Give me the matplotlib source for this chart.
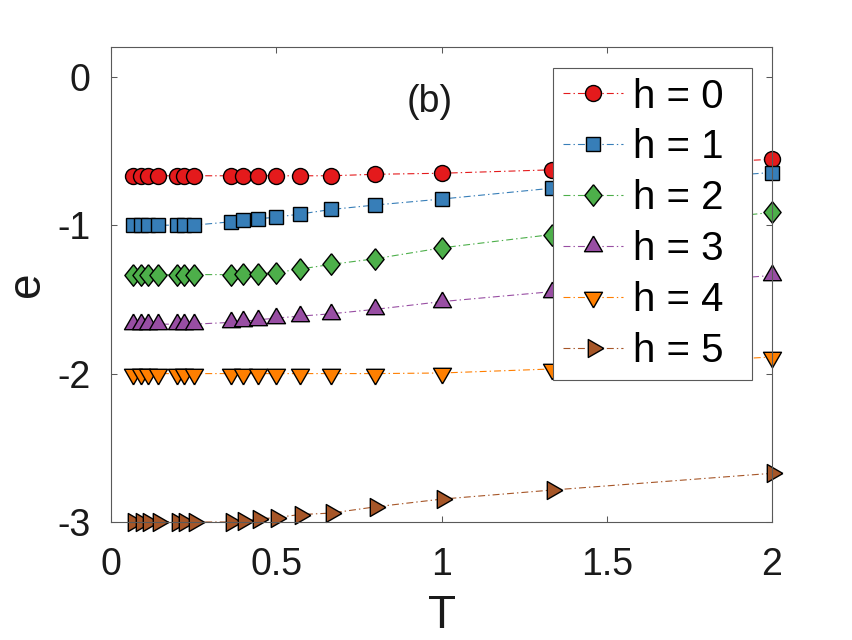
import numpy as np
import matplotlib
matplotlib.use('Agg')
from matplotlib import pyplot as plt
from matplotlib import rcParams

rcParams['font.family'] = ['Liberation Sans', 'DejaVu Sans']
rcParams['lines.scale_dashes'] = False

# temperature grid (shared by all curves)
T = [0.0667, 0.0909, 0.1111, 0.1429, 0.2, 0.2222, 0.25, 0.3636, 0.4, 0.4444,
     0.5, 0.5714, 0.6667, 0.8, 1.0, 1.3333, 2.0]

e_h0 = [-0.667, -0.667, -0.667, -0.667, -0.667, -0.667, -0.667, -0.667, -0.667,
        -0.667, -0.667, -0.667, -0.667, -0.657, -0.650, -0.627, -0.556]
e_h1 = [-1.0, -1.0, -1.0, -1.0, -1.0, -1.0, -1.0, -0.977, -0.966, -0.957,
        -0.946, -0.925, -0.894, -0.864, -0.824, -0.751, -0.645]
e_h2 = [-1.333, -1.333, -1.333, -1.333, -1.333, -1.333, -1.333, -1.333, -1.330,
        -1.328, -1.319, -1.296, -1.264, -1.226, -1.153, -1.063, -0.914]
e_h3 = [-1.667, -1.667, -1.667, -1.667, -1.667, -1.667, -1.667, -1.655, -1.647,
        -1.638, -1.626, -1.613, -1.597, -1.567, -1.515, -1.448, -1.339]
e_h4 = [-2.0, -2.0, -2.0, -2.0, -2.0, -2.0, -2.0, -2.0, -2.0, -2.0,
        -2.0, -2.0, -2.0, -2.0, -1.996, -1.969, -1.888]
e_h5 = [-3.0, -3.0, -3.0, -3.0, -3.0, -3.0, -3.0, -3.0, -2.995, -2.98,
        -2.97, -2.95, -2.94, -2.898, -2.846, -2.785, -2.672]

labels = ['h = 0', 'h = 1', 'h = 2', 'h = 3', 'h = 4', 'h = 5']
colors = ['#e41a1c', '#377eb8', '#4daf4a', '#984ea3', '#ff7f00', '#a65628']

# matlab-like markers (triangles centred on their centroid)
tri_up = [(0, 0.667), (-0.575, -0.333), (0.575, -0.333), (0, 0.667)]
tri_dn = [(0, -0.667), (-0.575, 0.333), (0.575, 0.333), (0, -0.667)]
tri_rt = [(0.667, 0), (-0.333, -0.575), (-0.333, 0.575), (0.667, 0)]
diamond = [(0, 1), (0.8, 0), (0, -1), (-0.8, 0), (0, 1)]
markers = ['o', 's', diamond, tri_up, tri_dn, tri_rt]
msizes = [11.5, 9.8, 15.5, 15.0, 15.0, 15.0]

fig = plt.figure(figsize=(8.53, 6.4), dpi=100)
ax = fig.add_axes([0.1301, 0.1844, 0.775, 0.742])

series = [e_h0, e_h1, e_h2, e_h3, e_h4, e_h5]
for y, lab, c, m, ms in zip(series, labels, colors, markers, msizes):
    ax.plot(T, y, linestyle='-.', dashes=(5, 2.2, 1, 2.2), lw=0.8, color=c,
            marker=m, markersize=ms, markerfacecolor=c, markeredgecolor='k',
            markeredgewidth=1.0, label=lab, clip_on=False)

ax.set_xlim(0, 2)
ax.set_ylim(-3, 0.2)
ax.set_xticks([0, 0.5, 1, 1.5, 2])
ax.set_xticklabels(['0', '0.5', '1', '1.5', '2'])
ax.set_yticks([-3, -2, -1, 0])
ax.set_yticklabels(['-3', '-2', '-1', '0'])
ax.tick_params(direction='in', top=True, right=True, length=4, width=0.75,
               color='0.35', labelsize=27, labelcolor='0.1')
ax.tick_params(axis='x', pad=18)
ax.tick_params(axis='y', pad=15)
for sp in ax.spines.values():
    sp.set_color('0.35')
    sp.set_linewidth(0.8)

ax.set_xlabel('T', fontsize=33, labelpad=8, color='0.1')
ax.set_ylabel('e', fontsize=33, labelpad=6, color='0.1')

ax.text(0.965, -0.17, '(b)', fontsize=27, ha='center', va='center', color='0.1')

leg = ax.legend(loc='upper left', bbox_to_anchor=(0.668, 0.3, 0.302, 0.657),
                mode='expand', borderaxespad=0, fontsize=29, numpoints=1,
                handlelength=1.5, handletextpad=0.25, labelspacing=0.32,
                borderpad=0.25, fancybox=False, framealpha=1, edgecolor='0.35')
leg.get_frame().set_linewidth(0.8)

fig.savefig('out.png', dpi=100)
